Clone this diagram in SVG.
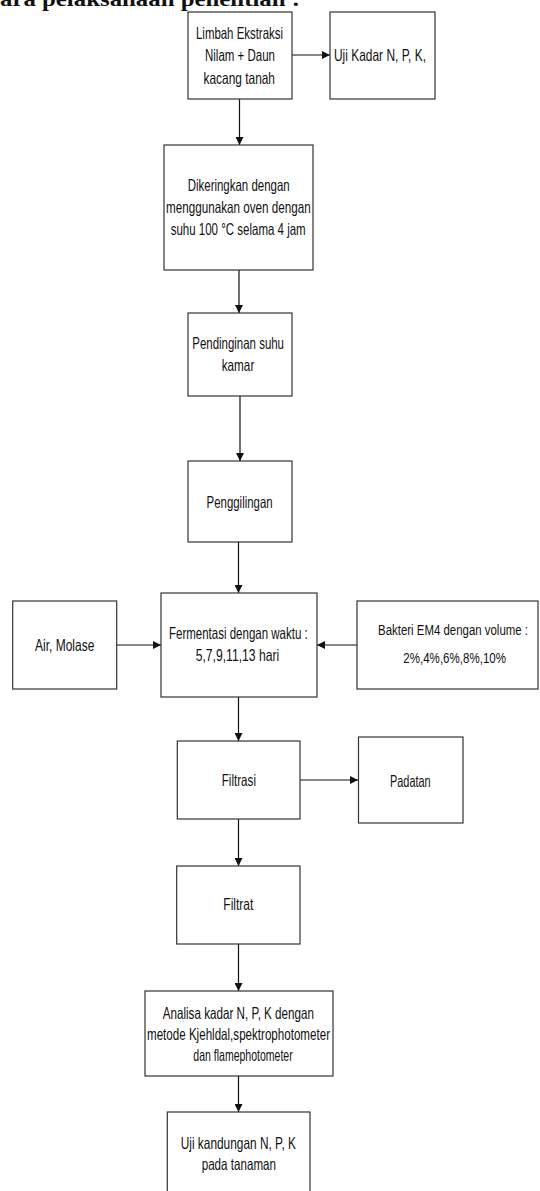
<svg xmlns="http://www.w3.org/2000/svg" width="540" height="1191" viewBox="0 0 540 1191">
<style>
.box{fill:#fff;stroke:#333;stroke-width:1.2}
.t{font-family:"Liberation Sans Narrow","Liberation Sans",Arial,sans-serif;font-size:16.5px;fill:#111}
.s{font-size:15px}
.c{fill:none;stroke:#111;stroke-width:1.2}
.title{font-family:"Liberation Serif","Times New Roman",serif;font-weight:bold;font-size:21px;fill:#111}
</style>
<defs>
<marker id="ah" viewBox="0 0 10 10" refX="10" refY="5" markerWidth="9" markerHeight="8" markerUnits="userSpaceOnUse" orient="auto">
<path d="M0,0 L10,5 L0,10 z" fill="#111"/>
</marker>
</defs>
<rect width="540" height="1191" fill="#fff"/>
<text class="title" x="0" y="6" textLength="300" lengthAdjust="spacingAndGlyphs">ara pelaksanaan penelitian :</text>

<g id="connectors">
<path class="c" d="M292,55 H330" marker-end="url(#ah)"/>
<path class="c" d="M239.5,99 V145" marker-end="url(#ah)"/>
<path class="c" d="M239,270 V313" marker-end="url(#ah)"/>
<path class="c" d="M240,396 V461" marker-end="url(#ah)"/>
<path class="c" d="M238.5,542 V593" marker-end="url(#ah)"/>
<path class="c" d="M117,645 H161" marker-end="url(#ah)"/>
<path class="c" d="M357,645 H317" marker-end="url(#ah)"/>
<path class="c" d="M238.5,697 V741" marker-end="url(#ah)"/>
<path class="c" d="M300,780 H358" marker-end="url(#ah)"/>
<path class="c" d="M238.5,819 V866" marker-end="url(#ah)"/>
<path class="c" d="M238.5,944 V991" marker-end="url(#ah)"/>
<path class="c" d="M238.5,1076 V1112" marker-end="url(#ah)"/>
</g>

<g id="limbah">
<rect class="box" x="188" y="12" width="104" height="87"/>
<text class="t" x="196" y="38.5" textLength="87" lengthAdjust="spacingAndGlyphs">Limbah Ekstraksi</text>
<text class="t" x="205" y="61" textLength="70" lengthAdjust="spacingAndGlyphs">Nilam + Daun</text>
<text class="t" x="203.5" y="83.5" textLength="71.5" lengthAdjust="spacingAndGlyphs">kacang tanah</text>
</g>
<g id="ujikadar">
<rect class="box" x="330" y="12" width="105" height="87"/>
<text class="t" x="334" y="61" textLength="92" lengthAdjust="spacingAndGlyphs">Uji Kadar N, P, K,</text>
</g>
<g id="dikeringkan">
<rect class="box" x="164" y="145" width="149" height="125"/>
<text class="t" x="187.7" y="191" textLength="102" lengthAdjust="spacingAndGlyphs">Dikeringkan dengan</text>
<text class="t" x="166" y="213" textLength="144.7" lengthAdjust="spacingAndGlyphs">menggunakan oven dengan</text>
<text class="t" x="170.7" y="234.5" textLength="135" lengthAdjust="spacingAndGlyphs">suhu 100 °C selama 4 jam</text>
</g>
<g id="pendinginan">
<rect class="box" x="188" y="313" width="104" height="83"/>
<text class="t" x="192.3" y="349" textLength="91.7" lengthAdjust="spacingAndGlyphs">Pendinginan suhu</text>
<text class="t" x="221.7" y="371" textLength="32.6" lengthAdjust="spacingAndGlyphs">kamar</text>
</g>
<g id="penggilingan">
<rect class="box" x="188" y="461" width="104" height="81"/>
<text class="t" x="206.6" y="508" textLength="66" lengthAdjust="spacingAndGlyphs">Penggilingan</text>
</g>
<g id="fermentasi">
<rect class="box" x="161" y="593" width="156" height="104"/>
<text class="t" x="169" y="639" textLength="138.7" lengthAdjust="spacingAndGlyphs">Fermentasi dengan waktu :</text>
<text class="t" x="195.7" y="661" textLength="83.6" lengthAdjust="spacingAndGlyphs">5,7,9,11,13 hari</text>
</g>
<g id="air">
<rect class="box" x="12.7" y="601" width="104" height="88"/>
<text class="t" x="35" y="651" textLength="59.3" lengthAdjust="spacingAndGlyphs">Air, Molase</text>
</g>
<g id="bakteri">
<rect class="box" x="357" y="601" width="181" height="88"/>
<text class="t" style="font-size:14px" x="378" y="635" textLength="150" lengthAdjust="spacingAndGlyphs">Bakteri EM4 dengan volume :</text>
<text class="t s" x="403.3" y="663" textLength="102.7" lengthAdjust="spacingAndGlyphs">2%,4%,6%,8%,10%</text>
</g>
<g id="filtrasi">
<rect class="box" x="177.3" y="741" width="122.7" height="78"/>
<text class="t" x="221.7" y="786" textLength="34.3" lengthAdjust="spacingAndGlyphs">Filtrasi</text>
</g>
<g id="padatan">
<rect class="box" x="358.5" y="737" width="104.5" height="86"/>
<text class="t" x="390" y="786.5" textLength="40.7" lengthAdjust="spacingAndGlyphs">Padatan</text>
</g>
<g id="filtrat">
<rect class="box" x="176.7" y="866" width="123.3" height="78"/>
<text class="t" x="223.3" y="910" textLength="30" lengthAdjust="spacingAndGlyphs">Filtrat</text>
</g>
<g id="analisa">
<rect class="box" x="145" y="991" width="188" height="85"/>
<text class="t" x="162.7" y="1019" textLength="151.3" lengthAdjust="spacingAndGlyphs">Analisa kadar N, P, K dengan</text>
<text class="t" x="147" y="1040" textLength="183" lengthAdjust="spacingAndGlyphs">metode Kjehldal,spektrophotometer</text>
<text class="t" x="193.3" y="1060.5" textLength="99.4" lengthAdjust="spacingAndGlyphs">dan flamephotometer</text>
</g>
<g id="ujikandungan">
<rect class="box" x="167.3" y="1112" width="142.7" height="90"/>
<text class="t" x="180.7" y="1149" textLength="115.3" lengthAdjust="spacingAndGlyphs">Uji kandungan N, P, K</text>
<text class="t" x="201.7" y="1170" textLength="74.3" lengthAdjust="spacingAndGlyphs">pada tanaman</text>
</g>
</svg>
